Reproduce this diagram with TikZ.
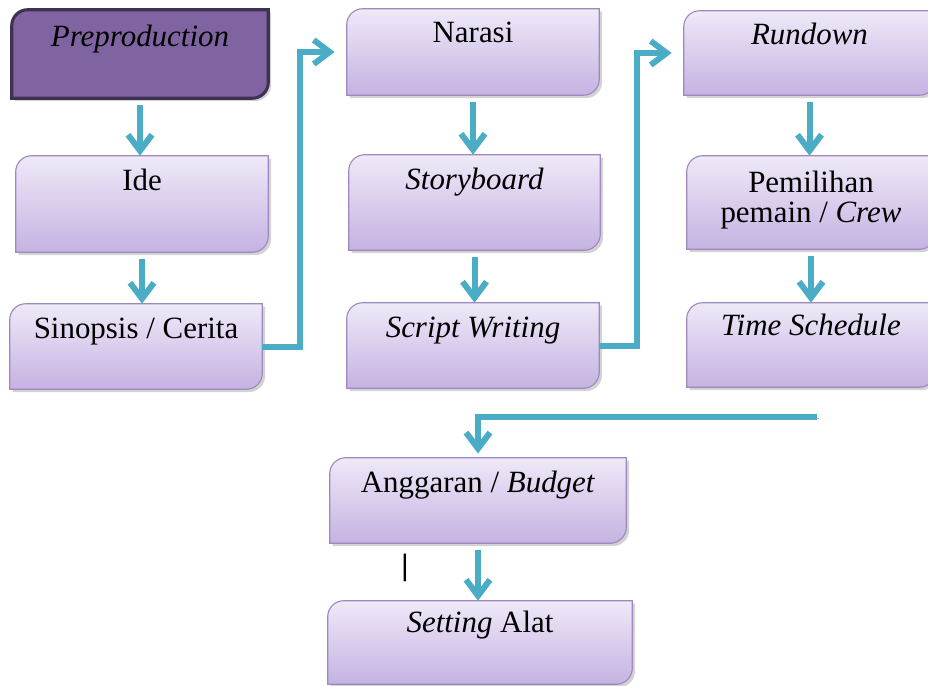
\documentclass[tikz,border=0pt]{standalone}
\usepackage{fontspec}
\setmainfont{Liberation Serif}
\setsansfont{Liberation Sans}
\usetikzlibrary{arrows.meta,shadows,backgrounds}

\definecolor{flowblue}{HTML}{4BACC6}
\definecolor{cardtop}{HTML}{EFE9F8}
\definecolor{cardbot}{HTML}{C5B2E2}
\definecolor{cardline}{HTML}{9D89BE}
\definecolor{headfill}{HTML}{8064A2}
\definecolor{headline}{HTML}{3F3151}

\newcommand{\twolines}[2]{{\setlength{\tabcolsep}{0pt}\renewcommand{\arraystretch}{0.8}\begin{tabular}[t]{c}#1\\#2\end{tabular}}}

\tikzset{
    card/.style={inner sep=0pt, minimum width=6.3cm, text height=0.85cm,
        font=\fontsize{22}{26}\selectfont},
    flow/.style={draw=flowblue, line width=0.15cm, shorten <=5pt,
        -{Straight Barb[length=0.4cm,width=0.6cm]},
        preaction={draw=black!30, transform canvas={xshift=1.2pt, yshift=-1.2pt}}},
    softcard/.style={draw=cardline, line width=0.8pt, top color=cardtop, bottom color=cardbot,
        drop shadow={shadow xshift=2pt, shadow yshift=-2pt, opacity=0.35}},
    headcard/.style={draw=headline, line width=2.2pt, fill=headfill,
        drop shadow={shadow xshift=2pt, shadow yshift=-2pt, opacity=0.35}},
}

\begin{document}
\begin{tikzpicture}
        \useasboundingbox (0,0) rectangle (23.2,-17.15);

        \node[card, minimum width=6.4cm, text height=0.925cm, text depth=1.275cm](pre) at (3.5,-1.35) {\textit{Preproduction}};
        \node[card, text depth=1.55cm](ide) at (3.55,-5.1) {Ide};
        \node[card, text depth=1.275cm](sin) at (3.4,-8.6625) {Sinopsis / Cerita};
        \node[card, text depth=1.3cm](nar) at (11.825,-1.3) {Narasi};
        \node[card, minimum width=6.275cm, text depth=1.525cm](sto) at (11.8625,-5.0625) {\textit{Storyboard}};
        \node[card, text depth=1.275cm](scr) at (11.825,-8.6375) {\textit{Script Writing}};
        \node[card, minimum width=6.275cm, text depth=1.25cm](run) at (20.2375,-1.325) {\textit{Rundown}};
        \node[card, minimum width=6.2cm, text height=0.925cm, text depth=1.4cm](pem) at (20.275,-5.0625) {\twolines{Pemilihan}{pemain / \textit{Crew}}};
        \node[card, minimum width=6.2cm, text height=0.8cm, text depth=1.3cm](tim) at (20.275,-8.625) {\textit{Time Schedule}};
        \node[card, minimum width=7.4cm, text depth=1.275cm](ang) at (11.95,-12.5125) {Anggaran / \textit{Budget}};
        \node[card, minimum width=7.6cm, text height=0.775cm, text depth=1.3cm](set) at (12.0,-16.0625) {\textit{Setting} Alat};
        \node[font=\sffamily\fontsize{21}{25}\selectfont](cursor) at (10.125,-14.2) {|};
        \coordinate (tail) at (20.425,-10.425);

        \begin{scope}[on background layer]
            \foreach \n/\look in {pre/headcard, ide/softcard, sin/softcard, nar/softcard,
                    sto/softcard, scr/softcard, run/softcard, pem/softcard, tim/softcard,
                    ang/softcard, set/softcard}
                \path[\look] ([yshift=-4mm]\n.north west) arc[start angle=180, end angle=90, radius=4mm]
                    -- (\n.north east) -- ([yshift=4mm]\n.south east)
                    arc[start angle=0, end angle=-90, radius=4mm] -- (\n.south west) -- cycle;
        \end{scope}

        \draw[flow] (pre.south) -- (pre.south |- ide.north);
        \draw[flow] (ide.south) -- (ide.south |- sin.north);
        \draw[flow] (nar.south) -- (nar.south |- sto.north);
        \draw[flow] (sto.south) -- (sto.south |- scr.north);
        \draw[flow] (run.south) -- (run.south |- pem.north);
        \draw[flow] (pem.south) -- (pem.south |- tim.north);
        \draw[flow] (ang.south) -- (ang.south |- set.north);
        \draw[flow, shorten <=0pt, shorten >=0.3cm] (sin.east) -- ++(0.95,0) |- (nar.west);
        \draw[flow, shorten <=0pt, shorten >=0.3cm] (scr.east) -- ++(0.95,0) |- (run.west);
        \draw[flow, shorten <=0pt, shorten >=3pt] (tail) -| (ang.north);
\end{tikzpicture}
\end{document}
